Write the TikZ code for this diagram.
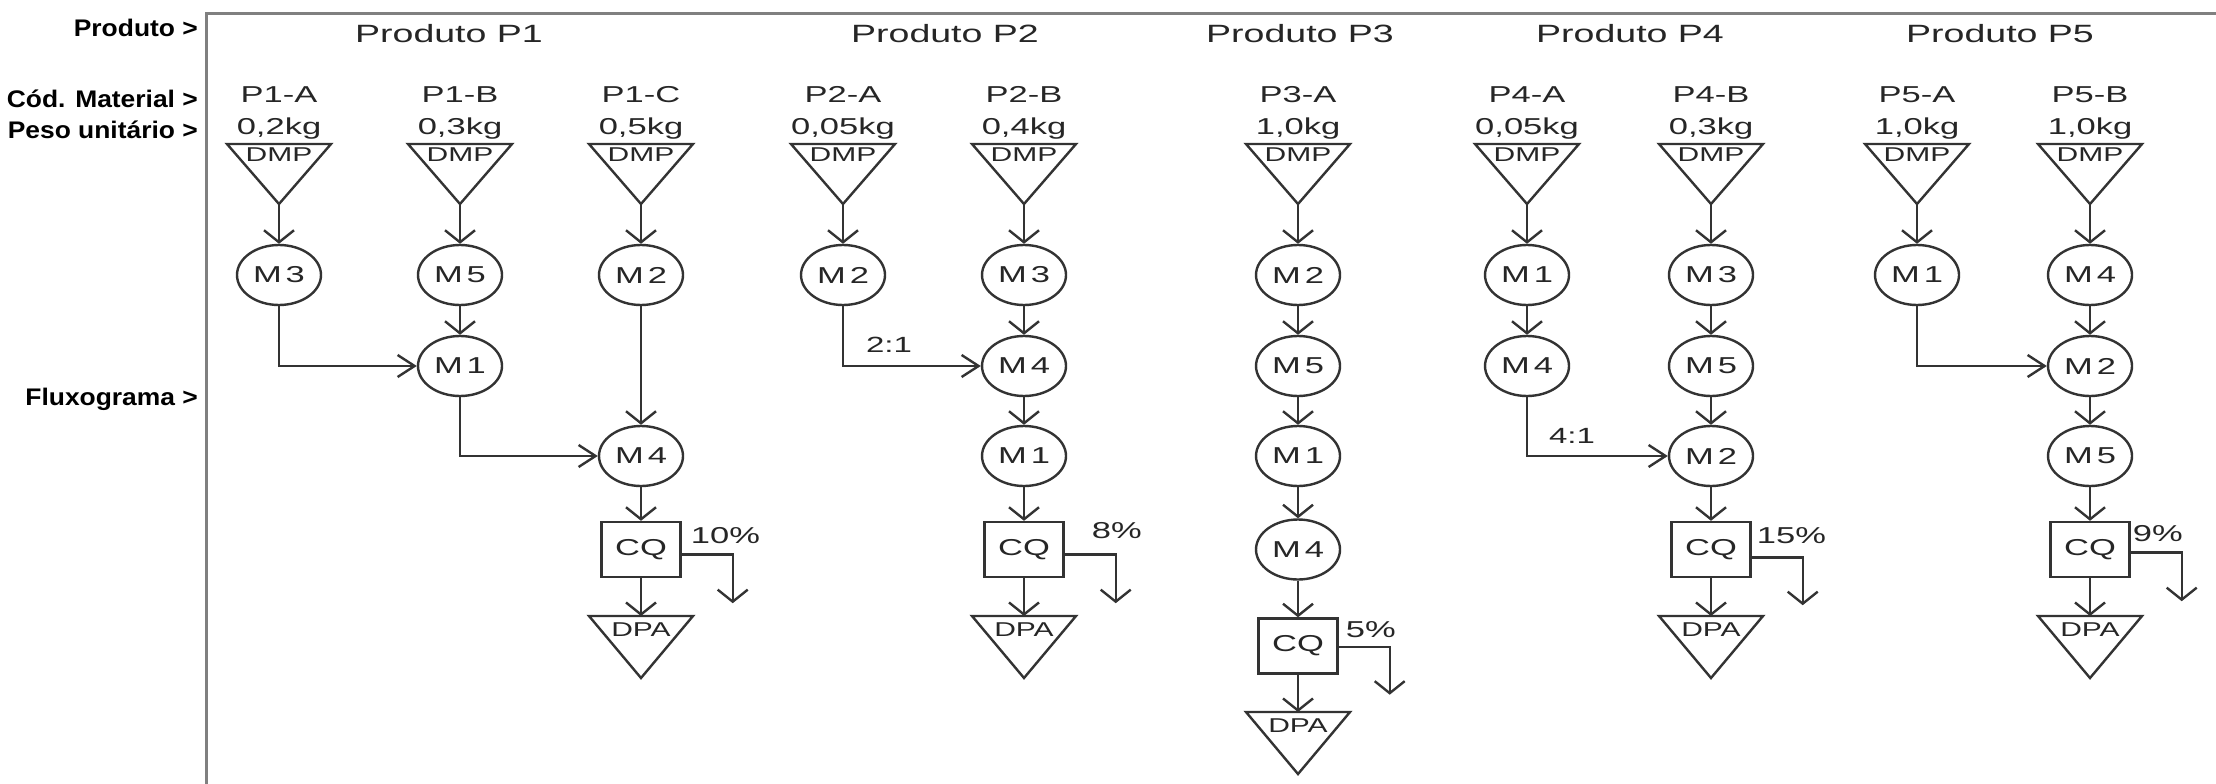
\documentclass[tikz,border=0pt]{standalone}
\usepackage{fontspec}
\setmainfont{Liberation Sans}[FakeStretch=1.5]
\newfontfamily\lblfont{Liberation Sans}[FakeStretch=1.1]
\usetikzlibrary{arrows.meta,shapes.geometric,calc}

\newcommand\dmpnode[4]{%
  \node[tribox] (#1) at (#2,174) {};
  \draw[ln] (#1.north west) -- (#1.north east) -- (#1.south) -- cycle;
  \node[tritxt] (#1t) at (#1.north) {DMP};
  \node[codetxt] (#1c) at (#2,102) {#3};
  \node[codetxt] (#1w) at (#2,134) {#4};
}
\newcommand\dpanode[3]{%
  \node[dpabox] (#1) at (#2,#3) {};
  \draw[ln] (#1.north west) -- (#1.north east) -- (#1.south) -- cycle;
  \node[dpatxt] (#1t) at (#1.north) {DPA};
}
\newcommand\mm[1]{M\hspace{4pt}#1}

\begin{document}
\begin{tikzpicture}[x=1pt,y=-1pt,
  ln/.style={line width=2.4pt, draw=black!80, line join=miter},
  va/.style={ln, -{Straight Barb[length=12pt,width=30pt]}},
  ha/.style={ln, -{Straight Barb[length=17pt,width=22pt]}},
  mach/.style={ellipse, draw=black!80, line width=2.4pt, minimum width=84pt, minimum height=60pt, inner sep=0pt, text=black!85, font=\fontsize{23}{25}\selectfont},
  qc/.style={rectangle, draw=black!80, line width=2.4pt, minimum width=79pt, minimum height=55pt, inner sep=0pt, text=black!85, font=\fontsize{23}{25}\selectfont},
  tribox/.style={minimum width=104pt, minimum height=60pt, inner sep=0pt, outer sep=0pt},
  dpabox/.style={minimum width=104pt, minimum height=62pt, inner sep=0pt, outer sep=0pt, anchor=north},
  tritxt/.style={anchor=north, inner sep=0pt, yshift=-4pt, text=black!85, font=\fontsize{20}{22}\selectfont},
  dpatxt/.style={anchor=north, inner sep=0pt, yshift=-7pt, text=black!85, font=\fontsize{20}{22}\selectfont},
  codetxt/.style={anchor=base, inner sep=0pt, text=black!85, font=\fontsize{23}{25}\selectfont},
  title/.style={anchor=base, inner sep=0pt, text=black!85, font=\fontsize{25}{27}\selectfont},
  pct/.style={anchor=base west, inner sep=0pt, text=black!85, font=\fontsize{23}{25}\selectfont},
  ratio/.style={anchor=base, inner sep=0pt, text=black!85, font=\fontsize{22}{24}\selectfont},
  side/.style={anchor=base east, inner sep=0pt, font=\lblfont\bfseries\fontsize{24}{26}\selectfont},
  frame/.style={line width=3pt, draw=black!50}
]
\useasboundingbox[fill=white] (0,0) rectangle (2216,784);

% frame
\draw[frame] (206,784) -- (206,14) -- (2216,14);

% side labels
\node[side] (sprod) at (198,37) {Produto >};
\node[side] (scod) at (198,107) {Cód. Material >};
\node[side] (speso) at (198,138) {Peso unitário >};
\node[side] (sflux) at (198,405) {Fluxograma >};

% titles
\node[title] (t1) at (449,43) {Produto P1};
\node[title] (t2) at (945,43) {Produto P2};
\node[title] (t3) at (1300,43) {Produto P3};
\node[title] (t4) at (1630,43) {Produto P4};
\node[title] (t5) at (2000,43) {Produto P5};

% ---------------- P1
\dmpnode{p1a}{279}{P1-A}{0,2kg}
\dmpnode{p1b}{460}{P1-B}{0,3kg}
\dmpnode{p1c}{641}{P1-C}{0,5kg}
\node[mach] (p1a1) at (279,275) {\mm{3}};
\node[mach] (p1b1) at (460,275) {\mm{5}};
\node[mach] (p1b2) at (460,366) {\mm{1}};
\node[mach] (p1c1) at (641,275) {\mm{2}};
\node[mach] (p1c3) at (641,456) {\mm{4}};
\node[qc] (p1q) at (641,549.5) {CQ};
\dpanode{p1d}{641}{616}
\draw[va] (p1a.south) -- (p1a1.north);
\draw[va] (p1b.south) -- (p1b1.north);
\draw[va] (p1c.south) -- (p1c1.north);
\draw[va] (p1b1.south) -- (p1b2.north);
\draw[ha] (p1a1.south) |- (p1b2.west);
\draw[va] (p1c1.south) -- (p1c3.north);
\draw[ha] (p1b2.south) |- (p1c3.west);
\draw[va] (p1c3.south) -- (p1q.north);
\draw[va] (p1q.south) -- (p1d.north);
\coordinate (p1s) at ($(p1q.south east)+(51,25)$);
\draw[va] ([yshift=-5pt]p1q.east) -| (p1s);
\node[pct] (p1p) at ($(p1q.north east)+(9,23)$) {10\%};

% ---------------- P2
\dmpnode{p2a}{843}{P2-A}{0,05kg}
\dmpnode{p2b}{1024}{P2-B}{0,4kg}
\node[mach] (p2a1) at (843,275) {\mm{2}};
\node[mach] (p2b1) at (1024,275) {\mm{3}};
\node[mach] (p2b2) at (1024,366) {\mm{4}};
\node[mach] (p2b3) at (1024,456) {\mm{1}};
\node[qc] (p2q) at (1024,549.5) {CQ};
\dpanode{p2d}{1024}{616}
\draw[va] (p2a.south) -- (p2a1.north);
\draw[va] (p2b.south) -- (p2b1.north);
\draw[va] (p2b1.south) -- (p2b2.north);
\draw[ha] (p2a1.south) |- (p2b2.west);
\node[ratio] (p2r) at (889,352) {2:1};
\draw[va] (p2b2.south) -- (p2b3.north);
\draw[va] (p2b3.south) -- (p2q.north);
\draw[va] (p2q.south) -- (p2d.north);
\coordinate (p2s) at ($(p2q.south east)+(51,25)$);
\draw[va] ([yshift=-5pt]p2q.east) -| (p2s);
\node[pct] (p2p) at ($(p2q.north east)+(27,18)$) {8\%};

% ---------------- P3
\dmpnode{p3a}{1298}{P3-A}{1,0kg}
\node[mach] (p3a1) at (1298,275) {\mm{2}};
\node[mach] (p3a2) at (1298,366) {\mm{5}};
\node[mach] (p3a3) at (1298,456) {\mm{1}};
\node[mach] (p3a4) at (1298,549.5) {\mm{4}};
\node[qc] (p3q) at (1298,646) {CQ};
\dpanode{p3d}{1298}{712}
\draw[va] (p3a.south) -- (p3a1.north);
\draw[va] (p3a1.south) -- (p3a2.north);
\draw[va] (p3a2.south) -- (p3a3.north);
\draw[va] (p3a3.south) -- (p3a4.north);
\draw[va] (p3a4.south) -- (p3q.north);
\draw[va] (p3q.south) -- (p3d.north);
\coordinate (p3s) at ($(p3q.south east)+(51,20)$);
\draw[va] ([yshift=-1pt]p3q.east) -| (p3s);
\node[pct] (p3p) at ($(p3q.north east)+(7,20)$) {5\%};

% ---------------- P4
\dmpnode{p4a}{1527}{P4-A}{0,05kg}
\dmpnode{p4b}{1711}{P4-B}{0,3kg}
\node[mach] (p4a1) at (1527,275) {\mm{1}};
\node[mach] (p4a2) at (1527,366) {\mm{4}};
\node[mach] (p4b1) at (1711,275) {\mm{3}};
\node[mach] (p4b2) at (1711,366) {\mm{5}};
\node[mach] (p4b3) at (1711,456) {\mm{2}};
\node[qc] (p4q) at (1711,549.5) {CQ};
\dpanode{p4d}{1711}{616}
\draw[va] (p4a.south) -- (p4a1.north);
\draw[va] (p4a1.south) -- (p4a2.north);
\draw[va] (p4b.south) -- (p4b1.north);
\draw[va] (p4b1.south) -- (p4b2.north);
\draw[va] (p4b2.south) -- (p4b3.north);
\draw[ha] (p4a2.south) |- (p4b3.west);
\node[ratio] (p4r) at (1572,443) {4:1};
\draw[va] (p4b3.south) -- (p4q.north);
\draw[va] (p4q.south) -- (p4d.north);
\coordinate (p4s) at ($(p4q.south east)+(51,27)$);
\draw[va] ([yshift=-8pt]p4q.east) -| (p4s);
\node[pct] (p4p) at ($(p4q.north east)+(5,23)$) {15\%};

% ---------------- P5
\dmpnode{p5a}{1917}{P5-A}{1,0kg}
\dmpnode{p5b}{2090}{P5-B}{1,0kg}
\node[mach] (p5a1) at (1917,275) {\mm{1}};
\node[mach] (p5b1) at (2090,275) {\mm{4}};
\node[mach] (p5b2) at (2090,366) {\mm{2}};
\node[mach] (p5b3) at (2090,456) {\mm{5}};
\node[qc] (p5q) at (2090,549.5) {CQ};
\dpanode{p5d}{2090}{616}
\draw[va] (p5a.south) -- (p5a1.north);
\draw[va] (p5b.south) -- (p5b1.north);
\draw[va] (p5b1.south) -- (p5b2.north);
\draw[ha] (p5a1.south) |- (p5b2.west);
\draw[va] (p5b2.south) -- (p5b3.north);
\draw[va] (p5b3.south) -- (p5q.north);
\draw[va] (p5q.south) -- (p5d.north);
\coordinate (p5s) at ($(p5q.south east)+(51,23)$);
\draw[va] ([yshift=-3pt]p5q.east) -| (p5s);
\node[pct] (p5p) at ($(p5q.north east)+(2,21)$) {9\%};
\end{tikzpicture}
\end{document}
